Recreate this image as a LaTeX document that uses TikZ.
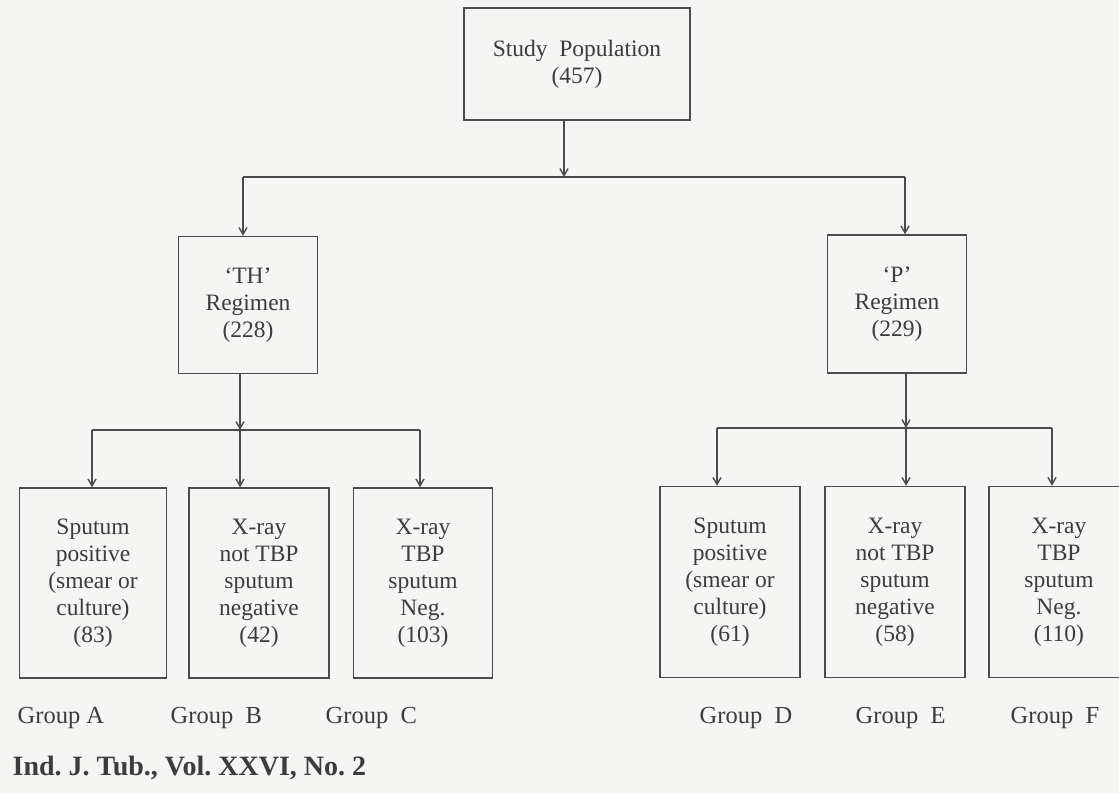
\documentclass[tikz,border=0pt]{standalone}
\usepackage{fontspec}
\setmainfont{Liberation Serif}
\usepackage{tikz}
\usetikzlibrary{
	calc,
	arrows.meta}

\definecolor{paper}{RGB}{245,245,244}
\definecolor{ink}{RGB}{60,60,60}
\definecolor{rule}{RGB}{75,75,75}

\begin{document}
\begin{tikzpicture}[x=1pt,y=-1pt,auto,line width=1.4pt,every text node part/.style={align=center},
    box/.style={draw=rule,text=ink,inner sep=0pt,
      font=\fontsize{23.5}{27}\selectfont},
    grp/.style={text=ink,anchor=west,inner sep=0pt,font=\fontsize{24.5}{28}\selectfont},
    link/.style={draw=rule},
    >={Straight Barb[length=7pt,width=8pt]}]

  \useasboundingbox (0,0) rectangle (1119,793);
  \fill[paper] (0,0) rectangle (1119,793);
  \clip (0,0) rectangle (1119,793);

  % Flow Chart
  \node[box,minimum width=226pt,minimum height=112pt] (N0) at (577,64) {Study\ \ Population\\(457)};
  \node[box,minimum width=139pt,minimum height=137pt] (R1) at (248,305) {`TH'\\Regimen\\(228)};
  \node[box,minimum width=139pt,minimum height=138pt] (R2) at (897,304) {`P'\\Regimen\\(229)};
  \node[box,minimum width=147pt,minimum height=190pt] (G1) at (93,583) {Sputum\\positive\\(smear or\\culture)\\(83)};
  \node[box,minimum width=140pt,minimum height=190pt] (G2) at (259,583) {X-ray\\not TBP\\sputum\\negative\\(42)};
  \node[box,minimum width=139pt,minimum height=190pt] (G3) at (423,583) {X-ray\\TBP\\sputum\\Neg.\\(103)};
  \node[box,minimum width=140pt,minimum height=191pt] (G4) at (730,582) {Sputum\\positive\\(smear or\\culture)\\(61)};
  \node[box,minimum width=140pt,minimum height=191pt] (G5) at (895,582) {X-ray\\not TBP\\sputum\\negative\\(58)};
  \node[box,minimum width=140pt,minimum height=191pt] (G6) at (1059,582) {X-ray\\TBP\\sputum\\Neg.\\(110)};

  % Group names
  \node[grp] (Q1) at (17,718) {Group A};
  \node[grp] (Q2) at (170,718) {Group\ \ B};
  \node[grp] (Q3) at (325,718) {Group\ \ C};
  \node[grp] (Q4) at (699,718) {Group\ \ D};
  \node[grp] (Q5) at (855,718) {Group\ \ E};
  \node[grp] (Q6) at (1010,718) {Group\ \ F};
  \node[grp,font=\fontsize{28}{32}\selectfont\bfseries] (F0) at (12,768) {Ind.\ J.\ Tub.,\ Vol.\ XXVI,\ No.\ 2};

  % Branch points
  \coordinate (J0) at (564,177);
  \coordinate (T1) at (243,177);
  \coordinate (T2) at (905,177);
  \coordinate (L0) at (240,430);
  \coordinate (L1) at (92,430);
  \coordinate (L3) at (420,430);
  \coordinate (M0) at (906,428);
  \coordinate (M1) at (717,428);
  \coordinate (M3) at (1052,428);

  \draw [link,->] (N0.south -| J0) to (J0);
  \draw [link] (T1) to (T2);
  \draw [link,->] (T1) to (T1 |- R1.north);
  \draw [link,->] (T2) to (T2 |- R2.north);

  \draw [link,->] (R1.south -| L0) to (L0);
  \draw [link] (L1) to (L3);
  \draw [link,->] (L1) to (L1 |- G1.north);
  \draw [link,->] (L0) to (L0 |- G2.north);
  \draw [link,->] (L3) to (L3 |- G3.north);

  \draw [link,->] (R2.south -| M0) to (M0);
  \draw [link] (M1) to (M3);
  \draw [link,->] (M1) to (M1 |- G4.north);
  \draw [link,->] (M0) to (M0 |- G5.north);
  \draw [link,->] (M3) to (M3 |- G6.north);

\end{tikzpicture}
\end{document}
